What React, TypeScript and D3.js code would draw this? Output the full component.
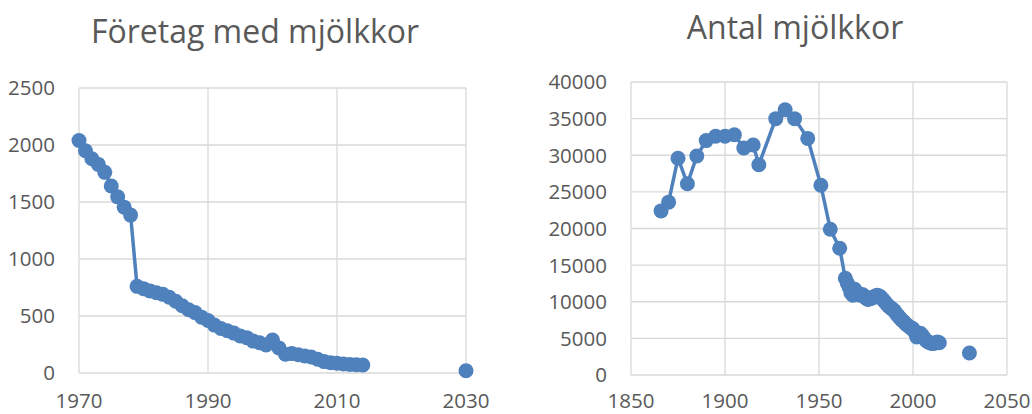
import React from 'react';
import * as d3 from 'd3';

// Företag med mjölkkor (left)
const foretagYears = [
  1970, 1971, 1972, 1973, 1974, 1975, 1976, 1977, 1978, 1979,
  1980, 1981, 1982, 1983, 1984, 1985, 1986, 1987, 1988, 1989,
  1990, 1991, 1992, 1993, 1994, 1995, 1996, 1997, 1998, 1999,
  2000, 2001, 2002, 2003, 2004, 2005, 2006, 2007, 2008, 2009,
  2010, 2011, 2012, 2013, 2014,
];
const foretagValues = [
  2040, 1950, 1880, 1830, 1760, 1640, 1545, 1455, 1385, 760,
  740, 720, 705, 690, 665, 630, 590, 555, 530, 490,
  460, 420, 390, 370, 350, 325, 310, 280, 265, 245,
  290, 220, 165, 170, 160, 150, 140, 120, 100, 90,
  85, 80, 75, 72, 70,
];
const foretagProjYears = [2030];
const foretagProjValues = [20];

// Antal mjölkkor (right)
const antalYears = [
  1866, 1870, 1875, 1880, 1885, 1890, 1895, 1900, 1905, 1910,
  1915, 1918, 1927, 1932, 1937, 1944, 1951, 1956, 1961, 1964,
  1965, 1966, 1967, 1968, 1969, 1970, 1971, 1972, 1973, 1974,
  1975, 1976, 1977, 1978, 1979, 1980, 1981, 1982, 1983, 1984,
  1985, 1986, 1987, 1988, 1989, 1990, 1991, 1992, 1993, 1994,
  1995, 1996, 1997, 1998, 1999, 2000, 2001, 2002, 2003, 2004,
  2005, 2006, 2007, 2008, 2009, 2010, 2011, 2012, 2013, 2014,
];
const antalValues = [
  22400, 23600, 29600, 26100, 29900, 32000, 32600, 32600, 32800, 31000,
  31400, 28700, 35000, 36200, 35000, 32300, 25900, 19900, 17300, 13200,
  12600, 12000, 11200, 10900, 11700, 11300, 11000, 10900, 11000, 10800,
  10500, 10300, 10400, 10500, 10600, 10800, 10900, 10800, 10600, 10300,
  10000, 9700, 9400, 9200, 9000, 8800, 8400, 8100, 7800, 7500,
  7300, 7000, 6800, 6600, 6400, 6300, 5800, 5200, 5500, 5700,
  5400, 5000, 4700, 4500, 4400, 4300, 4300, 4400, 4500, 4400,
];
const antalProjYears = [2030];
const antalProjValues = [3000];

const foretagXTicks = [1970, 1990, 2010, 2030];
const foretagYTicks = [0, 500, 1000, 1500, 2000, 2500];
const antalXTicks = [1850, 1900, 1950, 2000, 2050];
const antalYTicks = [0, 5000, 10000, 15000, 20000, 25000, 30000, 35000, 40000];

const BLUE = '#4f81bd';
const GRID = '#d9d9d9';
const TEXT = '#595959';
const FONT = '"Open Sans", "Noto Sans", sans-serif';

interface ChartProps {
  title: string;
  titleX: number;
  titleY: number;
  years: number[];
  values: number[];
  projYears: number[];
  projValues: number[];
  xTicks: number[];
  yTicks: number[];
  left: number;
  right: number;
  top: number;
  bottom: number;
  xLabelY: number;
}

const Chart: React.FC<ChartProps> = (p) => {
  const x = d3.scaleLinear()
    .domain([p.xTicks[0], p.xTicks[p.xTicks.length - 1]])
    .range([p.left, p.right]);
  const y = d3.scaleLinear()
    .domain([p.yTicks[0], p.yTicks[p.yTicks.length - 1]])
    .range([p.bottom, p.top]);

  const pts: [number, number][] = p.years.map((yr, i) => [yr, p.values[i]]);
  const line = d3.line<[number, number]>()
    .x(d => x(d[0]))
    .y(d => y(d[1]));
  const proj: [number, number][] = p.projYears.map((yr, i) => [yr, p.projValues[i]]);

  return (
    <g>
      <text x={p.titleX} y={p.titleY} textAnchor="middle"
        style={{ font: `32px ${FONT}`, fill: TEXT }}>{p.title}</text>
      {p.yTicks.map(t => (
        <line key={'gy' + t} x1={p.left} x2={p.right} y1={y(t)} y2={y(t)}
          stroke={GRID} strokeWidth={1.3} />
      ))}
      {p.xTicks.map(t => (
        <line key={'gx' + t} x1={x(t)} x2={x(t)} y1={p.top} y2={p.bottom}
          stroke={GRID} strokeWidth={1.3} />
      ))}
      {p.yTicks.map(t => (
        <text key={'ly' + t} x={p.left - 24} y={y(t)} dy="0.36em" textAnchor="end"
          style={{ font: `20.5px ${FONT}`, fill: TEXT }}>{t}</text>
      ))}
      {p.xTicks.map(t => (
        <text key={'lx' + t} x={x(t)} y={p.xLabelY} textAnchor="middle"
          style={{ font: `20.5px ${FONT}`, fill: TEXT }}>{t}</text>
      ))}
      <path d={line(pts) || ''} fill="none" stroke={BLUE} strokeWidth={3.5}
        strokeLinejoin="round" />
      {pts.map((d, i) => (
        <circle key={'p' + i} cx={x(d[0])} cy={y(d[1])} r={7.5} fill={BLUE} />
      ))}
      {proj.map((d, i) => (
        <circle key={'q' + i} cx={x(d[0])} cy={y(d[1])} r={7.5} fill={BLUE} />
      ))}
    </g>
  );
};

export default function App() {
  return (
    <svg width={1032} height={414} style={{ position: 'absolute', left: 0, top: 0, background: '#fff' }}>
      <rect width={1032} height={414} fill="#fff" />
      <Chart title="Företag med mjölkkor" titleX={255} titleY={43}
        years={foretagYears} values={foretagValues}
        projYears={foretagProjYears} projValues={foretagProjValues}
        xTicks={foretagXTicks} yTicks={foretagYTicks}
        left={79} right={466} top={88} bottom={373} xLabelY={408} />
      <Chart title="Antal mjölkkor" titleX={795} titleY={39}
        years={antalYears} values={antalValues}
        projYears={antalProjYears} projValues={antalProjValues}
        xTicks={antalXTicks} yTicks={antalYTicks}
        left={631} right={1007} top={82} bottom={375} xLabelY={408} />
    </svg>
  );
}
